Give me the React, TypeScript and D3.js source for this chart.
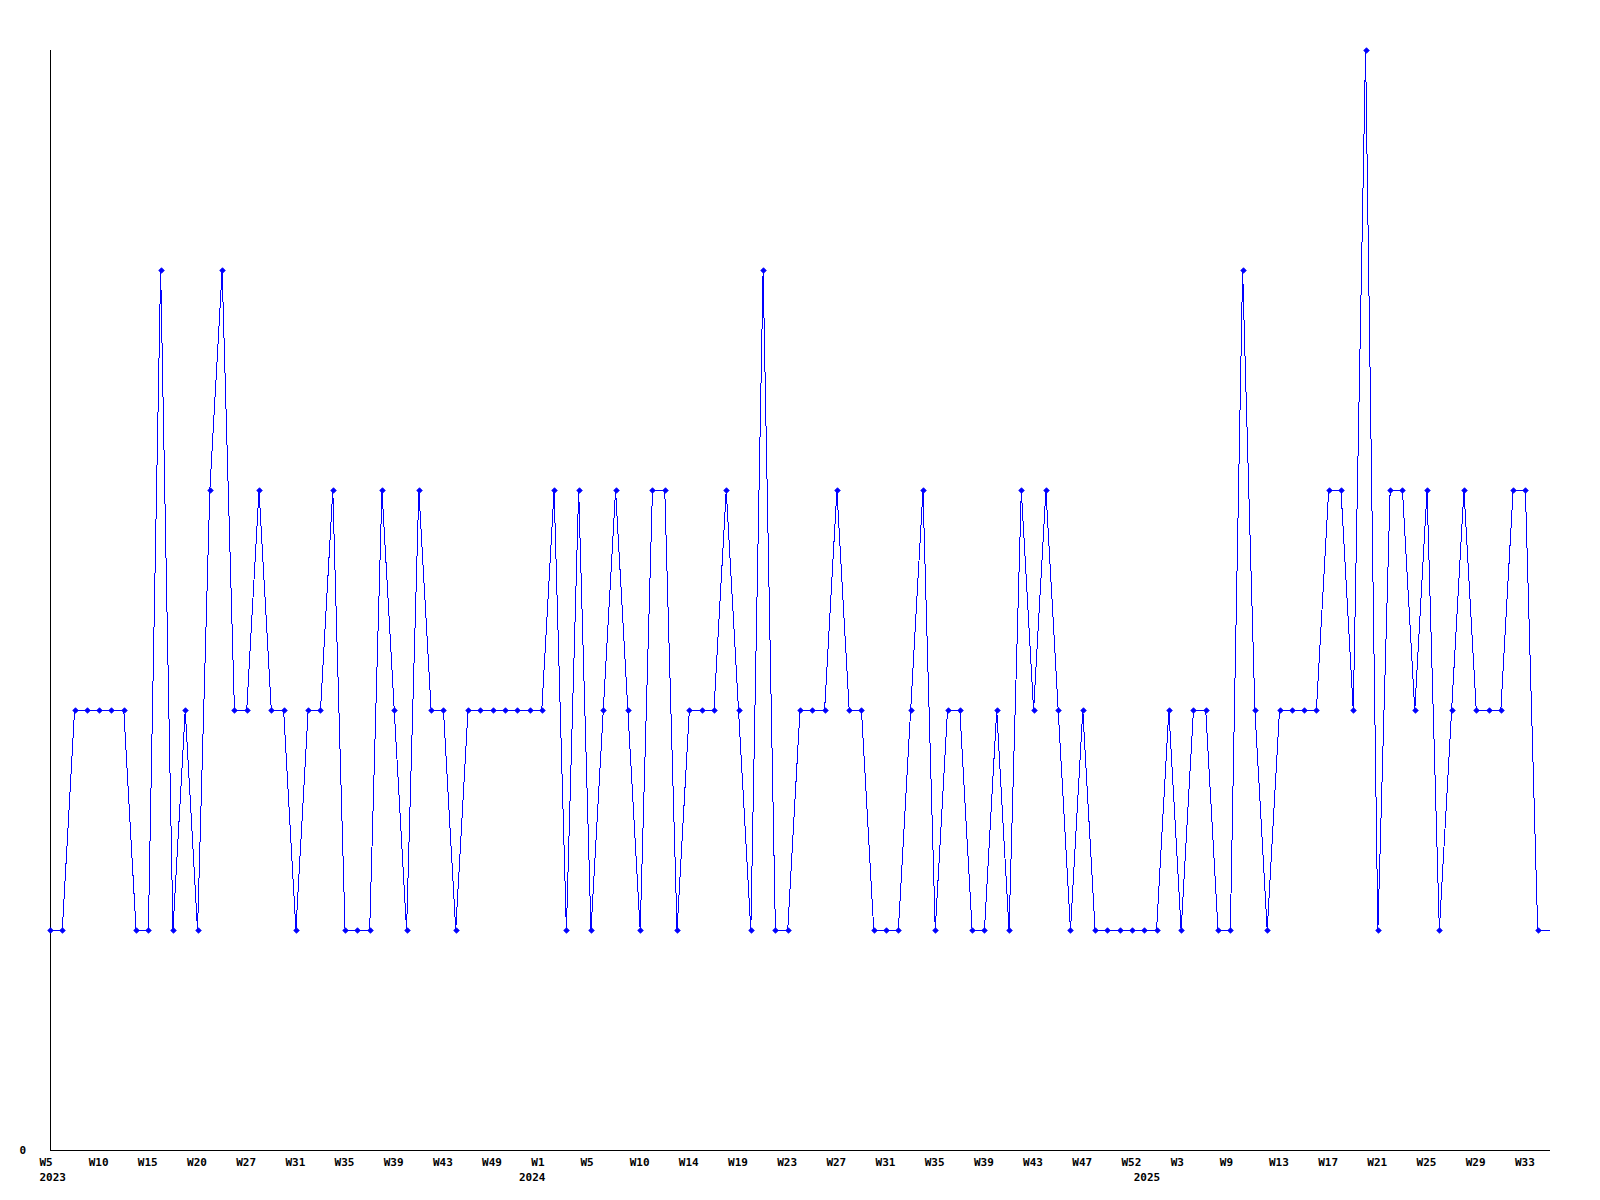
import React from "react";
import * as d3 from "d3";

// Weekly values (one per category, in order)
const values: number[] = [
  1, 1, 2, 2, 2, 2, 2, 1, 1, 4,
  1, 2, 1, 3, 4, 2, 2, 3, 2, 2,
  1, 2, 2, 3, 1, 1, 1, 3, 2, 1,
  3, 2, 2, 1, 2, 2, 2, 2, 2, 2,
  2, 3, 1, 3, 1, 2, 3, 2, 1, 3,
  3, 1, 2, 2, 2, 3, 2, 1, 4, 1,
  1, 2, 2, 2, 3, 2, 2, 1, 1, 1,
  2, 3, 1, 2, 2, 1, 1, 2, 1, 3,
  2, 3, 2, 1, 2, 1, 1, 1, 1, 1,
  1, 2, 1, 2, 2, 1, 1, 4, 2, 1,
  2, 2, 2, 2, 3, 3, 2, 5, 1, 3,
  3, 2, 3, 1, 2, 3, 2, 2, 2, 3,
  3, 1, 1,
];

// Week tick labels, one every 4 categories
const weekTickLabels: string[] = [
  "W5", "W10", "W15", "W20", "W27", "W31", "W35", "W39", "W43", "W49",
  "W1", "W5", "W10", "W14", "W19", "W23", "W27", "W31", "W35", "W39",
  "W43", "W47", "W52", "W3", "W9", "W13", "W17", "W21", "W25", "W29", "W33",
];
const weekTickStep = 4;

// Year labels and the category index where each year begins
const yearLabels: string[] = ["2023", "2024", "2025"];
const yearStartIndex: number[] = [0, 39, 89];

const yTickValues: number[] = [0];

const W = 1600;
const H = 1200;
const left = 50;
const right = 1550;
const top = 50;
const bottom = 1150;

export default function App() {
  const x = d3.scaleLinear().domain([0, values.length - 1]).range([left, right]);
  const y = d3.scaleLinear().domain([0, 5]).range([bottom, top]);

  const line = d3
    .line<number>()
    .x((_, i) => x(i))
    .y((d) => y(d));

  const font = "'DejaVu Sans Mono', 'Liberation Mono', monospace";
  const r = 2.8;
  const labelShift = -10.5;

  return (
    <svg
      width={W}
      height={H}
      style={{ position: "absolute", left: 0, top: 0, background: "#fff" }}
    >
      <rect x={0} y={0} width={W} height={H} fill="#fff" />
      {/* axes */}
      <line x1={left + 0.5} x2={left + 0.5} y1={top} y2={bottom} stroke="#000" strokeWidth={1} shapeRendering="crispEdges" />
      <line x1={left} x2={right} y1={bottom + 0.5} y2={bottom + 0.5} stroke="#000" strokeWidth={1} shapeRendering="crispEdges" />

      {/* y tick labels */}
      {yTickValues.map((v) => (
        <text
          key={"y" + v}
          x={26}
          y={y(v) + 4}
          textAnchor="end"
          fontFamily={font}
          fontWeight="bold"
          fontSize={11}
          fill="#000"
        >
          {v}
        </text>
      ))}

      {/* week labels */}
      {weekTickLabels.map((lab, k) => (
        <text
          key={"w" + k}
          x={x(k * weekTickStep) + labelShift}
          y={1166}
          textAnchor="start"
          fontFamily={font}
          fontWeight="bold"
          fontSize={11}
          fill="#000"
        >
          {lab}
        </text>
      ))}

      {/* year labels */}
      {yearLabels.map((lab, k) => (
        <text
          key={"yr" + k}
          x={x(yearStartIndex[k]) + labelShift}
          y={1181}
          textAnchor="start"
          fontFamily={font}
          fontWeight="bold"
          fontSize={11}
          fill="#000"
        >
          {lab}
        </text>
      ))}

      {/* series line */}
      <path d={line(values) || ""} fill="none" stroke="#0000ff" strokeWidth={1} shapeRendering="crispEdges" />

      {/* markers */}
      {values.slice(0, values.length - 1).map((v, i) => {
        const cx = Math.round(x(i)) + 0.5;
        const cy = Math.round(y(v)) + 0.5;
        return (
          <path
            key={"m" + i}
            d={`M${cx - r},${cy} L${cx},${cy - r} L${cx + r},${cy} L${cx},${cy + r} Z`}
            fill="#0000ff"
            stroke="#0000ff"
            strokeWidth={0.8}
          />
        );
      })}
    </svg>
  );
}
